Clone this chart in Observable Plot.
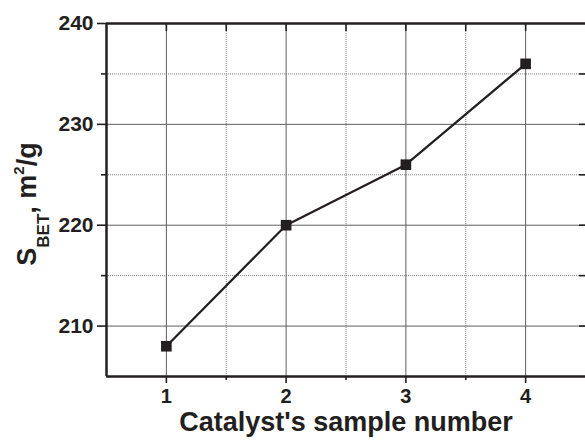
<!DOCTYPE html>
<html>
<head>
<meta charset="utf-8">
<script src="https://cdn.jsdelivr.net/npm/d3@7"></script>
<script src="https://cdn.jsdelivr.net/npm/@observablehq/plot@0.6"></script>
<style>
  html, body { margin: 0; padding: 0; background: #fff; overflow: hidden; }
  #chart svg { display: block; }
</style>
</head>
<body>
<div id="chart"></div>
<script>
const sampleNumbers = [1, 2, 3, 4];
const sbetValues = [208, 220, 226, 236];
const xMajorTicks = [1, 2, 3, 4];
const xMinorTicks = [1.5, 2.5, 3.5];
const yMajorTicks = [210, 220, 230, 240];
const yMinorTicks = [215, 225, 235];
const xTitle = "Catalyst's sample number";

const data = sampleNumbers.map((n, i) => ({n, s: sbetValues[i]}));
const ink = "#231f20";
const blank = () => "";

const chart = Plot.plot({
  width: 585,
  height: 440,
  marginLeft: 106,
  marginRight: 0,
  marginTop: 23,
  marginBottom: 64,
  x: {domain: [0.5, 4.5]},
  y: {domain: [205, 240]},
  style: {fontFamily: "'Liberation Sans', Arial, sans-serif", fontWeight: "bold", color: ink, background: "#fff"},
  marks: [
    Plot.ruleX(xMinorTicks, {stroke: "#808080", strokeWidth: 1, strokeDasharray: "1,1"}),
    Plot.ruleY(yMinorTicks, {stroke: "#808080", strokeWidth: 1, strokeDasharray: "1,1"}),
    Plot.ruleX(xMajorTicks, {stroke: "#5e5e5e", strokeWidth: 1}),
    Plot.ruleY(yMajorTicks.filter(v => v < 240), {stroke: "#5e5e5e", strokeWidth: 1}),
    Plot.line(data, {x: "n", y: "s", stroke: ink, strokeWidth: 2.2}),
    Plot.dot(data, {x: "n", y: "s", symbol: "square", r: 6, fill: ink, stroke: "none"}),
    Plot.ruleX([0.5], {stroke: ink, strokeWidth: 2.5}),
    Plot.ruleY([205, 240], {stroke: ink, strokeWidth: 2.5}),
    Plot.axisY({ticks: yMajorTicks, tickSize: 9, tickPadding: 4, fontSize: 21, label: null, stroke: ink, strokeWidth: 1.6}),
    Plot.axisY({ticks: yMinorTicks, tickSize: 5, tickFormat: blank, label: null, stroke: ink, strokeWidth: 1.6}),
    Plot.axisY({anchor: "right", ticks: [...yMajorTicks.filter(v => v < 240), ...yMinorTicks], tickSize: 7, dx: -7, tickFormat: blank, label: null, stroke: ink, strokeWidth: 1.6}),
    Plot.axisX({ticks: xMajorTicks, tickSize: 7, tickPadding: 5, tickFormat: d3.format("d"), fontSize: 20, label: null, stroke: ink, strokeWidth: 1.6}),
    Plot.axisX({ticks: xMinorTicks, tickSize: 4, tickFormat: blank, label: null, stroke: ink, strokeWidth: 1.6}),
    Plot.axisX({anchor: "top", ticks: [...xMajorTicks, ...xMinorTicks], tickSize: 7, dy: 7, tickFormat: blank, label: null, stroke: ink, strokeWidth: 1.6}),
    Plot.text([xTitle], {frameAnchor: "bottom", text: d => d, dy: 54, fontSize: 27, fontWeight: "bold", fill: ink, lineAnchor: "bottom"})
  ]
});

document.getElementById("chart").appendChild(chart);

// y-axis title with subscript and superscript
const svg = d3.select(chart);
const t = svg.append("text")
  .attr("transform", "translate(36,204) rotate(-90)")
  .attr("text-anchor", "middle")
  .attr("font-family", "'Liberation Sans', Arial, sans-serif")
  .attr("font-weight", "bold")
  .attr("font-size", 27)
  .attr("fill", ink);
t.append("tspan").text("S");
t.append("tspan").attr("font-size", 17).attr("dy", 13).text("BET");
t.append("tspan").attr("dy", -13).text(", m");
t.append("tspan").attr("font-size", 15).attr("dy", -12).text("2");
t.append("tspan").attr("dy", 12).text("/g");
</script>
</body>
</html>
